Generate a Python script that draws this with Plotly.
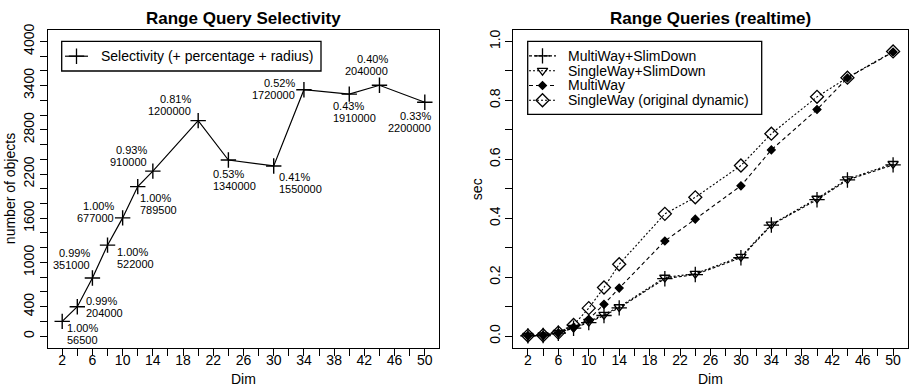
import plotly.graph_objects as go

# ---------------- data ----------------
dims = [2, 4, 6, 8, 10, 12, 14, 20, 24, 30, 34, 40, 44, 50]

sel_objects = [200, 400, 790, 1235, 1605, 2030, 2240, 2925, 2390, 2310, 3345, 3285, 3405, 3175]
sel_percent = ["1.00%", "0.99%", "0.99%", "1.00%", "1.00%", "1.00%", "0.93%",
               "0.81%", "0.53%", "0.41%", "0.52%", "0.43%", "0.40%", "0.33%"]
sel_radius = ["56500", "204000", "351000", "522000", "677000", "789500", "910000",
              "1200000", "1340000", "1550000", "1720000", "1910000", "2040000", "2200000"]

multiway_slimdown = [0.001, 0.002, 0.010, 0.027, 0.046, 0.070, 0.096,
                     0.195, 0.209, 0.266, 0.377, 0.463, 0.530, 0.581]
singleway_slimdown = [0.002, 0.003, 0.012, 0.029, 0.049, 0.073, 0.099,
                      0.199, 0.212, 0.270, 0.379, 0.467, 0.533, 0.585]
multiway = [0.002, 0.003, 0.011, 0.030, 0.057, 0.108, 0.163,
            0.323, 0.397, 0.510, 0.632, 0.769, 0.876, 0.964]
singleway = [0.002, 0.003, 0.012, 0.038, 0.095, 0.165, 0.244,
             0.415, 0.471, 0.579, 0.687, 0.812, 0.877, 0.966]

left_legend_name = "Selectivity (+ percentage + radius)"
right_names = ["MultiWay+SlimDown", "SingleWay+SlimDown", "MultiWay", "SingleWay (original dynamic)"]

x_ticks = list(range(2, 51, 2))
x_ticktext = [str(v) if (v - 2) % 4 == 0 else "" for v in x_ticks]
yl_ticks = list(range(0, 4001, 200))
yl_labels = {0, 400, 1000, 1600, 2200, 2800, 3400, 4000}
yl_ticktext = [str(v) if v in yl_labels else "" for v in yl_ticks]
yr_ticks = [i / 10 for i in range(11)]
yr_ticktext = ["%.1f" % v if i % 2 == 0 else "" for i, v in enumerate(yr_ticks)]

# ---------------- style ----------------
FONT = "Liberation Sans, Arial, sans-serif"
W, H = 911, 389
BLACK = "#000000"
CLEAR = "rgba(0,0,0,0)"
LINE_GAP = 6  # half the spacing between the two label lines (px)

# annotation placement per point: (xanchor, xshift, yshift of the label block centre)
label_place = [("left", 4, -13), ("left", 8, 0), ("right", -1, 19), ("left", 8, -13),
               ("right", -8, 6), ("left", 1, -17), ("right", -5, 15), ("right", -6, 16),
               ("left", -16, -20), ("left", 4, -17), ("right", -8, 1), ("left", -17, -18),
               ("right", 10, 20), ("right", 7, -20)]

right_styles = [("cross-thin-open", 11, "3px,2px"),
                ("triangle-down-open", 9, "2px,2px"),
                ("diamond", 6, "4px,3px"),
                ("diamond-open", 10, "2px,2px")]

fig = go.Figure()

fig.add_trace(go.Scatter(
    x=dims, y=sel_objects, mode="lines+markers", name=left_legend_name, showlegend=False,
    line=dict(color=BLACK, width=1.2),
    marker=dict(symbol="cross-thin-open", size=11, line=dict(color=BLACK, width=1.4)),
    xaxis="x", yaxis="y"))

for name, vals, (sym, size, dash) in zip(right_names,
                                         [multiway_slimdown, singleway_slimdown, multiway, singleway],
                                         right_styles):
    fig.add_trace(go.Scatter(
        x=dims, y=vals, mode="lines+markers", name=name, showlegend=False,
        line=dict(color=BLACK, width=1.1, dash=dash),
        marker=dict(symbol=sym, size=size, color=BLACK, line=dict(color=BLACK, width=1.3)),
        xaxis="x2", yaxis="y2"))

# ---- hand-drawn legends (overlay axis in pixel units) ----
shapes = []
annotations = []


def legend_box(x0, y0, x1, y1):
    shapes.append(dict(type="rect", xref="paper", yref="paper", x0=x0 / W, x1=x1 / W,
                       y0=1 - y1 / H, y1=1 - y0 / H, line=dict(color=BLACK, width=1.3),
                       fillcolor=CLEAR, layer="above"))


def legend_entry(name, ypix, lx0, lx1, tx, sym, size, dash, lw=1.1):
    fig.add_trace(go.Scatter(x=[lx0, lx1], y=[ypix, ypix], mode="lines", showlegend=False,
                             line=dict(color=BLACK, width=lw, dash=dash), hoverinfo="skip",
                             xaxis="x3", yaxis="y3"))
    fig.add_trace(go.Scatter(x=[(lx0 + lx1) / 2], y=[ypix], mode="markers", showlegend=False,
                             marker=dict(symbol=sym, size=size, color=BLACK,
                                         line=dict(color=BLACK, width=1.3)),
                             hoverinfo="skip", xaxis="x3", yaxis="y3"))
    annotations.append(dict(text=name, x=tx / W, y=1 - ypix / H, xref="paper", yref="paper",
                            showarrow=False, xanchor="left", yanchor="middle",
                            font=dict(family=FONT, size=14, color=BLACK)))


legend_box(61.7, 36, 321, 66)
legend_entry(left_legend_name, 51, 65, 88, 99, "cross-thin-open", 11, "solid", 1.2)

legend_box(527.7, 36, 761.7, 110)
for i, (name, (sym, size, dash)) in enumerate(zip(right_names, right_styles)):
    legend_entry(name, 50.7 + i * 15, 529, 556, 566, sym, size, dash)

for xv, yv, p, r, (xa, xs, ys) in zip(dims, sel_objects, sel_percent, sel_radius, label_place):
    for txt, dy in ((p, LINE_GAP), (r, -LINE_GAP)):
        annotations.append(dict(
            x=xv, y=yv, xref="x", yref="y", text=txt, showarrow=False,
            xanchor=xa, yanchor="middle", xshift=xs, yshift=ys + dy, align="center",
            borderpad=0, font=dict(family=FONT, size=11, color=BLACK)))

# titles and axis labels
annotations += [
    dict(text="<b>Range Query Selectivity</b>", x=243.5 / W, y=1 - 13 / H, xref="paper", yref="paper",
         showarrow=False, xanchor="center", yanchor="middle", font=dict(family=FONT, size=17, color=BLACK)),
    dict(text="<b>Range Queries (realtime)</b>", x=710.5 / W, y=1 - 13 / H, xref="paper", yref="paper",
         showarrow=False, xanchor="center", yanchor="middle", font=dict(family=FONT, size=17, color=BLACK)),
    dict(text="Dim", x=243.5 / W, y=1 - 379 / H, xref="paper", yref="paper",
         showarrow=False, xanchor="center", yanchor="middle", font=dict(family=FONT, size=14, color=BLACK)),
    dict(text="Dim", x=710.5 / W, y=1 - 379 / H, xref="paper", yref="paper",
         showarrow=False, xanchor="center", yanchor="middle", font=dict(family=FONT, size=14, color=BLACK)),
    dict(text="number of objects", x=10 / W, y=1 - 186 / H, xref="paper", yref="paper", textangle=-90,
         showarrow=False, xanchor="center", yanchor="middle", font=dict(family=FONT, size=14, color=BLACK)),
    dict(text="sec", x=477 / W, y=1 - 186 / H, xref="paper", yref="paper", textangle=-90,
         showarrow=False, xanchor="center", yanchor="middle", font=dict(family=FONT, size=14, color=BLACK)),
]

axis_common = dict(showline=True, linecolor=BLACK, linewidth=1.3, mirror=True, ticks="outside",
                   ticklen=7, tickwidth=1, tickcolor=BLACK, showgrid=False, zeroline=False,
                   tickfont=dict(family=FONT, size=14, color=BLACK))

ydom = [1 - 347.3 / H, 1 - 24 / H]
fig.update_layout(
    width=W, height=H, margin=dict(l=0, r=0, t=0, b=0),
    paper_bgcolor="white", plot_bgcolor=CLEAR, showlegend=False,
    xaxis=dict(domain=[47.7 / W, 439.3 / W], range=[0.08, 51.92], tickvals=x_ticks,
               ticktext=x_ticktext, anchor="y", ticklabelstandoff=-8, **axis_common),
    yaxis=dict(domain=ydom, range=[-160, 4160], tickvals=yl_ticks, ticktext=yl_ticktext,
               tickangle=-90, anchor="x", **axis_common),
    xaxis2=dict(domain=[513.3 / W, 907.7 / W], range=[0.08, 51.92], tickvals=x_ticks,
                ticktext=x_ticktext, anchor="y2", ticklabelstandoff=-8, **axis_common),
    yaxis2=dict(domain=ydom, range=[-0.04, 1.04], tickvals=yr_ticks, ticktext=yr_ticktext,
                tickangle=-90, anchor="x2", **axis_common),
    xaxis3=dict(domain=[0, 1], range=[0, W], visible=False, anchor="y3", fixedrange=True),
    yaxis3=dict(domain=[0, 1], range=[H, 0], visible=False, anchor="x3", fixedrange=True),
    shapes=shapes,
    annotations=annotations,
    font=dict(family=FONT, color=BLACK),
)

fig.write_html("out.html")
